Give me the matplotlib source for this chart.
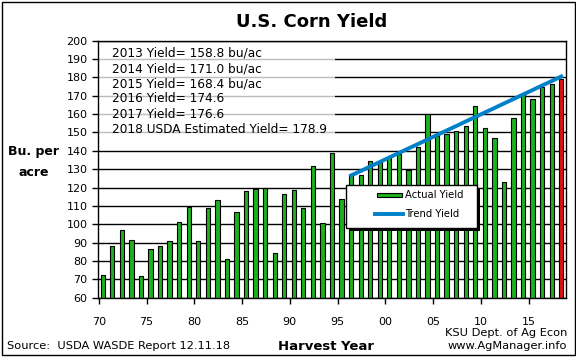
import matplotlib
matplotlib.use("Agg")
import matplotlib.pyplot as plt
from matplotlib.patches import Rectangle
from matplotlib.lines import Line2D

years = list(range(1970, 2019))
yields = [72.4, 88.1, 97.0, 91.3, 71.9, 86.4, 88.0, 90.8, 101.0, 109.5,
          91.0, 108.9, 113.2, 81.1, 106.7, 118.0, 119.4, 119.8, 84.6, 116.3,
          118.5, 108.6, 131.5, 100.7, 138.6, 113.5, 127.1, 126.7, 134.4, 133.8,
          136.9, 138.2, 129.3, 142.2, 160.3, 147.9, 149.1, 150.7, 153.3, 164.4,
          152.6, 146.8, 123.1, 158.1, 171.0, 168.4, 174.6, 176.6, 178.9]

trend_years = list(range(1996, 2019))
trend = [126.6, 129.0, 131.5, 133.9, 136.4, 138.8, 141.3, 143.7, 146.2, 148.6,
         151.1, 153.5, 156.0, 158.4, 160.9, 163.3, 165.8, 168.2, 170.7, 173.1,
         175.6, 178.0, 180.5]

tick_years = [1970, 1975, 1980, 1985, 1990, 1995, 2000, 2005, 2010, 2015]
tick_labels = ['70', '75', '80', '85', '90', '95', '00', '05', '10', '15']

notes = ["2013 Yield= 158.8 bu/ac",
         "2014 Yield= 171.0 bu/ac",
         "2015 Yield= 168.4 bu/ac",
         "2016 Yield= 174.6",
         "2017 Yield= 176.6",
         "2018 USDA Estimated Yield= 178.9"]

green = '#1EB01E'
red = '#E01010'
blue = '#0080C8'

W, H = 576, 357


def fx(px):
    return px / W


def fy(py):
    return 1 - py / H


fig = plt.figure(figsize=(5.76, 3.57), dpi=100)
ax = fig.add_axes([fx(98), fy(297.7), (566 - 98) / W, (297.7 - 40.7) / H])

idx = [y - 1970 for y in years]
colors = [green] * (len(years) - 1) + [red]
ax.bar(idx, yields, width=0.45, color=colors, edgecolor='black', linewidth=0.8, zorder=2)
ax.plot([y - 1970 for y in trend_years], trend, color=blue, lw=2.8, zorder=3)

ax.set_xlim(-0.5, len(years) - 0.5)
ax.set_ylim(60, 200)
ax.set_yticks(range(60, 201, 10))
ax.set_xticks([y - 1970 - 0.42 for y in tick_years])
ax.set_xticklabels(tick_labels)
ax.tick_params(axis='both', direction='out', length=4, width=1, labelsize=8, colors='black')
ax.tick_params(axis='x', pad=10)
ax.set_axisbelow(True)
ax.yaxis.grid(True, color='black', lw=1)
for s in ax.spines.values():
    s.set_linewidth(1)

# white panel behind the yield notes (greys out the gridlines)
ax.add_patch(Rectangle((-0.5, 142.5), 24.8, 55.5, facecolor='white', edgecolor='none',
                       alpha=0.74, zorder=1.5))
for i, t in enumerate(notes):
    fig.text(fx(111.7), fy(53.3 + i * 15.2), t, fontsize=8.7, va='center', ha='left')

fig.text(fx(312), fy(22), 'U.S. Corn Yield', fontsize=13, fontweight='bold', ha='center', va='center')
fig.text(fx(34), fy(151.7), 'Bu. per', fontsize=9, fontweight='bold', ha='center', va='center')
fig.text(fx(34), fy(172), 'acre', fontsize=9, fontweight='bold', ha='center', va='center')
fig.text(fx(326), fy(346), 'Harvest Year', fontsize=9.5, fontweight='bold', ha='center', va='center')
fig.text(fx(6.6), fy(346), 'Source:  USDA WASDE Report 12.11.18', fontsize=8.2, ha='left', va='center')
fig.text(fx(567), fy(333), 'KSU Dept. of Ag Econ', fontsize=8.2, ha='right', va='center')
fig.text(fx(567), fy(346), 'www.AgManager.info', fontsize=8.2, ha='right', va='center')

# legend box with drop shadow
lx0, ly0, lx1, ly1 = 345.7, 185, 476.7, 228
fig.patches.append(Rectangle((fx(lx0 + 3), fy(ly1 + 3)), fx(lx1 - lx0), (ly1 - ly0) / H,
                             transform=fig.transFigure, facecolor='black', edgecolor='none', zorder=5))
fig.patches.append(Rectangle((fx(lx0), fy(ly1)), fx(lx1 - lx0), (ly1 - ly0) / H,
                             transform=fig.transFigure, facecolor='white', edgecolor='black', lw=1, zorder=6))
fig.patches.append(Rectangle((fx(376.7), fy(197)), fx(25), 4 / H, transform=fig.transFigure,
                             facecolor=green, edgecolor='black', lw=0.8, zorder=7))
fig.lines.append(Line2D([fx(375), fx(403)], [fy(214), fy(214)], transform=fig.transFigure,
                        color=blue, lw=2.8, zorder=7))
fig.text(fx(405), fy(195), 'Actual Yield', fontsize=7.2, ha='left', va='center', zorder=8)
fig.text(fx(405), fy(214), 'Trend Yield', fontsize=7.2, ha='left', va='center', zorder=8)

# outer border
fig.patches.append(Rectangle((fx(1.5), fy(354.5)), fx(573), 353 / H, transform=fig.transFigure,
                             facecolor='none', edgecolor='black', lw=1, zorder=10))

fig.savefig('out.png', dpi=100)
